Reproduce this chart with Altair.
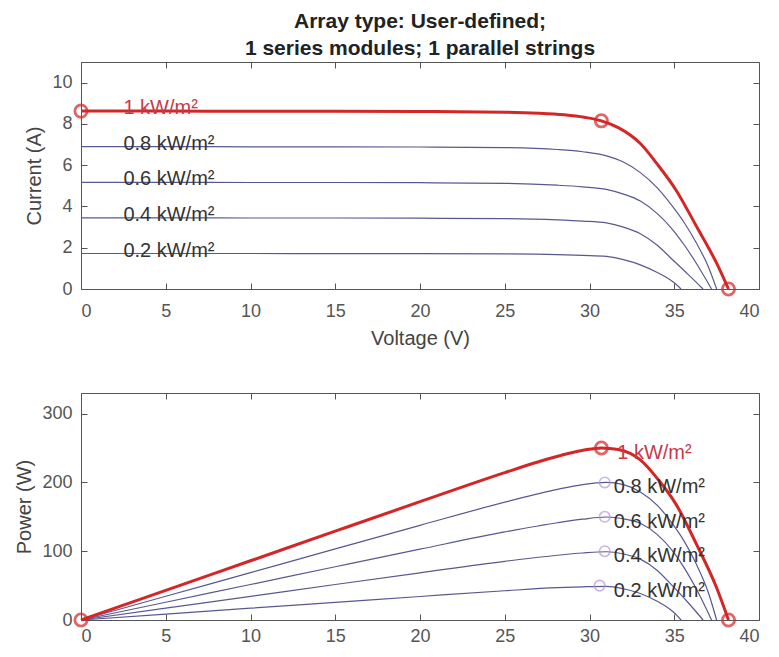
import altair as alt
import pandas as pd

# ---------------- data ----------------
irr = ["1 kW/m²", "0.8 kW/m²", "0.6 kW/m²", "0.4 kW/m²", "0.2 kW/m²"]

v_10 = [0, 5, 10, 15, 20, 25, 27, 28.5, 29.7, 30.7, 31.7, 33.0, 34.0, 35.1, 36.3, 37.5, 38.2]
i_10 = [8.62, 8.62, 8.61, 8.61, 8.60, 8.57, 8.52, 8.44, 8.32, 8.15, 7.82, 7.05, 6.05, 4.8, 3.05, 1.25, 0]

v_08 = [0, 5, 10, 15, 20, 25, 28.1, 29.6, 31.0, 32.0, 33.0, 34.0, 34.9, 35.6, 36.3, 37.0, 37.5]
i_08 = [6.9, 6.9, 6.89, 6.89, 6.88, 6.85, 6.76, 6.65, 6.45, 6.15, 5.64, 4.9, 4.0, 3.2, 2.24, 1.1, 0]

v_06 = [0, 5, 10, 15, 20, 25, 28.1, 29.6, 31.0, 32.0, 33.0, 34.0, 34.9, 35.6, 36.3, 37.2]
i_06 = [5.17, 5.17, 5.16, 5.16, 5.15, 5.12, 5.03, 4.95, 4.83, 4.6, 4.26, 3.65, 2.88, 2.12, 1.25, 0]

v_04 = [0, 5, 10, 15, 20, 25, 28.1, 29.6, 31.0, 32.0, 33.0, 34.0, 34.9, 35.8, 36.7]
i_04 = [3.45, 3.45, 3.44, 3.44, 3.43, 3.41, 3.35, 3.29, 3.2, 3.0, 2.68, 2.12, 1.42, 0.72, 0]

v_02 = [0, 5, 10, 15, 20, 25, 28.1, 29.6, 31.0, 32.0, 33.0, 34.0, 34.5, 35.0, 35.4]
i_02 = [1.72, 1.72, 1.72, 1.71, 1.71, 1.70, 1.67, 1.63, 1.58, 1.42, 1.17, 0.8, 0.58, 0.3, 0]

# highlighted points of the 1 kW/m² curve (Isc, MPP, Voc)
red_v = [0, 30.7, 38.2]
red_i = [8.62, 8.15, 0]
red_p = [0, 250, 0]

# maximum power points of the other curves
mpp_v = [30.9, 30.9, 30.9, 30.6]
mpp_p = [200, 150, 100, 50]

# label anchors
iv_label_v = [2.5, 2.5, 2.5, 2.5, 2.5]
iv_label_i = [8.62, 6.9, 5.17, 3.45, 1.72]
pv_label_v = [31.4, 31.2, 31.2, 31.2, 31.2]
pv_label_p = [250, 200, 150, 100, 50]

x_ticks = [0, 5, 10, 15, 20, 25, 30, 35, 40]
i_ticks = [0, 2, 4, 6, 8, 10]
p_ticks = [0, 100, 200, 300]

# ---------------- tables ----------------
curves = [(irr[0], v_10, i_10), (irr[1], v_08, i_08), (irr[2], v_06, i_06),
          (irr[3], v_04, i_04), (irr[4], v_02, i_02)]
df = pd.DataFrame([{"G": g, "V": v, "I": i} for g, vs, cs in curves for v, i in zip(vs, cs)])
df["P"] = df["V"] * df["I"]
red_df = pd.DataFrame({"V": red_v, "I": red_i, "P": red_p})
mpp_df = pd.DataFrame({"V": mpp_v, "P": mpp_p})
iv_lab = pd.DataFrame({"G": irr, "V": iv_label_v, "I": iv_label_i})
pv_lab = pd.DataFrame({"G": irr, "V": pv_label_v, "P": pv_label_p})

RED = "#d42626"
BLUE = "#585890"
PURPLE = "#b894d8"
AX = "#555555"
FONT = "Liberation Sans"
W = 678
H1 = 227
H2 = 227


def main_x(title, lpad):
    return alt.Axis(values=x_ticks, ticks=False, domain=False, grid=False,
                    labelFontSize=18, labelColor="#555", labelPadding=lpad,
                    labelFont=FONT, title=title, titleFontSize=20,
                    titleFontWeight="normal", titleColor="#444", titleFont=FONT,
                    titlePadding=8)


def main_y(values, title):
    return alt.Axis(values=values, ticks=False, domain=False, grid=False,
                    labelFontSize=18, labelColor="#555", labelPadding=9,
                    labelFont=FONT, title=title, titleFontSize=20,
                    titleFontWeight="normal", titleColor="#444", titleFont=FONT,
                    titlePadding=7)


def tick_axis(values, orient, offset):
    return alt.Axis(values=values, orient=orient, offset=offset, labels=False,
                    domain=False, grid=False, ticks=True, tickSize=6,
                    tickColor=AX, tickWidth=1, title=None)


def panel(yfield, ydomain, yticks, ytitle, xtitle, H, lpad):
    xs = alt.Scale(domain=[0, 40], nice=False)
    ys = alt.Scale(domain=ydomain, nice=False)

    others = alt.Chart(df).transform_filter(alt.datum.G != irr[0]).mark_line(
        interpolate="monotone", color=BLUE, strokeWidth=1.2
    ).encode(
        x=alt.X("V:Q", scale=xs, axis=main_x(xtitle, lpad)),
        y=alt.Y(f"{yfield}:Q", scale=ys, axis=main_y(yticks, ytitle)),
        detail="G:N",
    )
    ticks_a = alt.Chart(df).mark_point(opacity=0, size=1).encode(
        x=alt.X("V:Q", scale=xs, axis=tick_axis(x_ticks, "top", -H)),
        y=alt.Y(f"{yfield}:Q", scale=ys, axis=tick_axis(yticks, "right", -W)),
    )
    ticks_b = alt.Chart(df).mark_point(opacity=0, size=1).encode(
        x=alt.X("V:Q", scale=xs, axis=tick_axis(x_ticks, "bottom", -H)),
        y=alt.Y(f"{yfield}:Q", scale=ys, axis=tick_axis(yticks, "left", -W)),
    )
    red = alt.Chart(df).transform_filter(alt.datum.G == irr[0]).mark_line(
        interpolate="monotone", color=RED, strokeWidth=3
    ).encode(
        x=alt.X("V:Q", scale=xs, axis=None),
        y=alt.Y(f"{yfield}:Q", scale=ys, axis=None),
    )
    red_pts = alt.Chart(red_df).mark_point(
        shape="circle", filled=False, color=RED, size=150, strokeWidth=2.8
    ).encode(
        x=alt.X("V:Q", scale=xs, axis=None),
        y=alt.Y(f"{yfield}:Q", scale=ys, axis=None),
    )
    return others, ticks_a, ticks_b, red, red_pts, xs, ys


# ---------------- I-V panel ----------------
o1, ta1, tb1, r1, rp1, xs1, ys1 = panel("I", [0, 11], i_ticks, "Current (A)", "Voltage (V)", H1, 13)
iv_text = alt.Chart(iv_lab).mark_text(
    align="left", baseline="alphabetic", dy=3, fontSize=20, font=FONT
).encode(
    x=alt.X("V:Q", scale=xs1, axis=None),
    y=alt.Y("I:Q", scale=ys1, axis=None),
    text="G:N",
    color=alt.condition(alt.datum.G == irr[0], alt.value("#c8374a"), alt.value("#333333")),
)
top = alt.layer(o1, ta1, tb1, r1, iv_text, rp1).resolve_axis(
    x="independent", y="independent"
).properties(
    width=W, height=H1,
    title=alt.TitleParams(
        text=["Array type: User-defined;", "1 series modules; 1 parallel strings"],
        fontSize=21, fontWeight="bold", font=FONT, color="#222", lineHeight=27,
        anchor="middle", offset=3,
    ),
)

# ---------------- P-V panel ----------------
o2, ta2, tb2, r2, rp2, xs2, ys2 = panel("P", [0, 330], p_ticks, "Power (W)", None, H2, 7)
mpp_pts = alt.Chart(mpp_df).mark_point(
    shape="circle", filled=False, color=PURPLE, size=110, strokeWidth=1.6
).encode(
    x=alt.X("V:Q", scale=xs2, axis=None),
    y=alt.Y("P:Q", scale=ys2, axis=None),
)
pv_text = alt.Chart(pv_lab).mark_text(
    align="left", baseline="middle", dx=4, dy=5, fontSize=20, font=FONT
).encode(
    x=alt.X("V:Q", scale=xs2, axis=None),
    y=alt.Y("P:Q", scale=ys2, axis=None),
    text="G:N",
    color=alt.condition(alt.datum.G == irr[0], alt.value("#c8374a"), alt.value("#333333")),
)
bottom = alt.layer(o2, ta2, tb2, r2, mpp_pts, pv_text, rp2).resolve_axis(
    x="independent", y="independent"
).properties(width=W, height=H2)

chart = alt.vconcat(top, bottom, spacing=43).properties(
    padding={"left": 6, "top": 2, "right": 0, "bottom": 0},
    background="white",
).configure_view(stroke=AX, strokeWidth=1)

chart.save("out.html", embed_options={"renderer": "svg", "actions": False})
